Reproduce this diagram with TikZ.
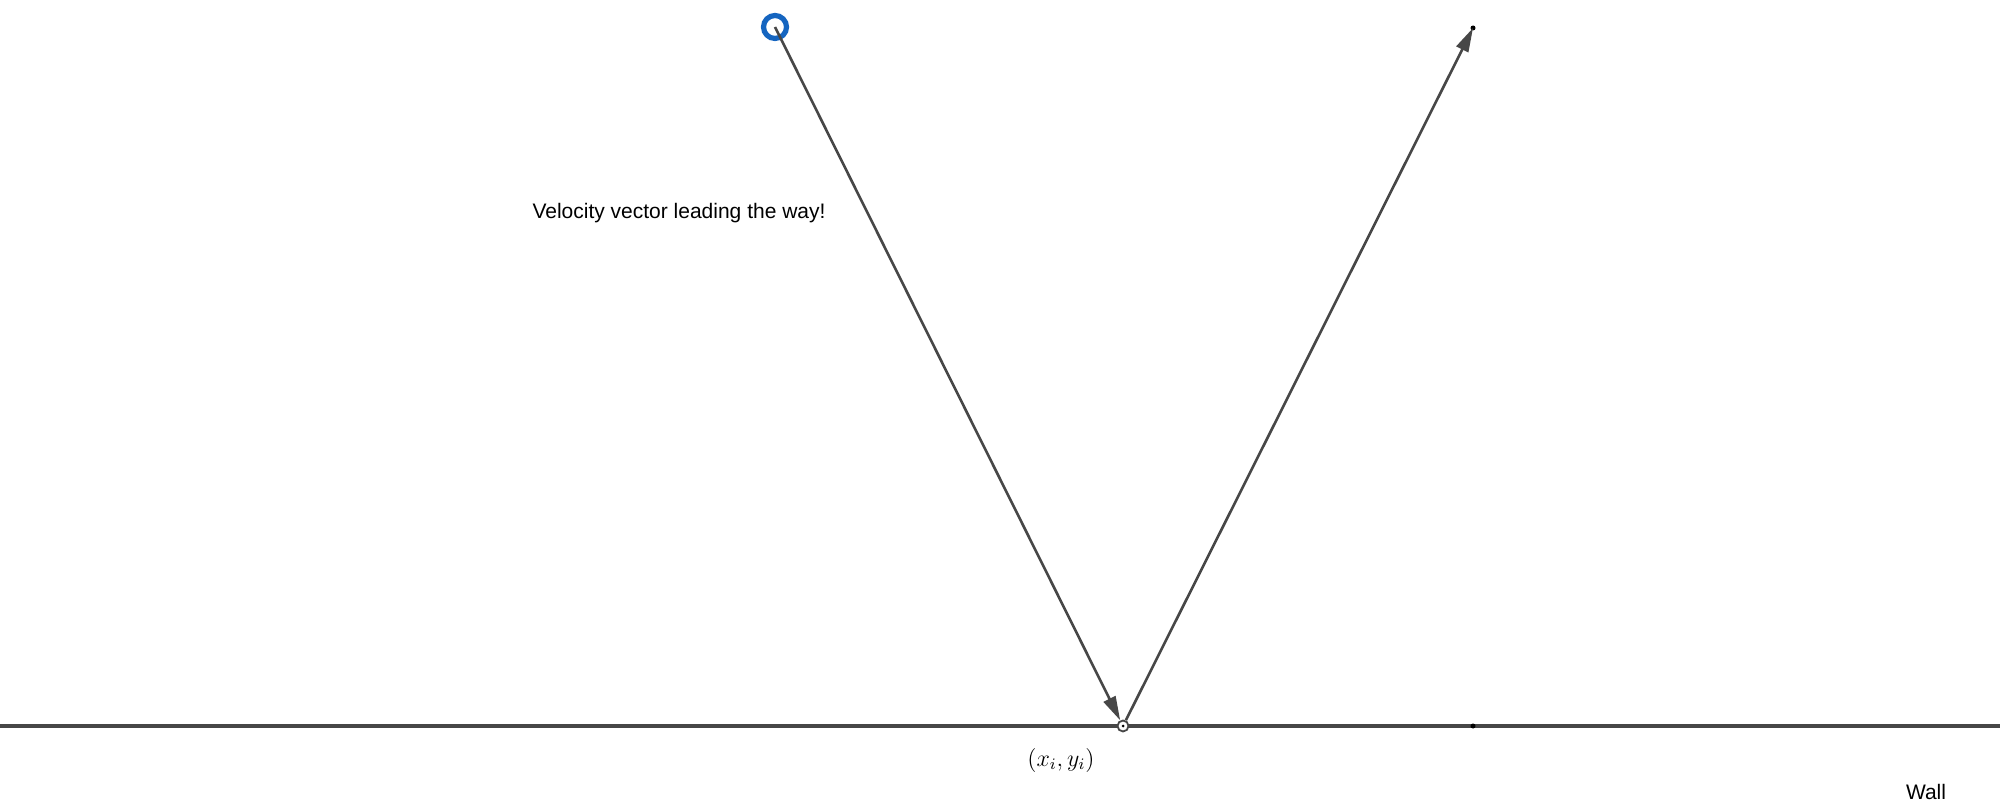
\documentclass[tikz,border=0pt]{standalone}
\usepackage{fontspec}
\setmainfont{Liberation Sans}
\usetikzlibrary{arrows.meta}
\definecolor{linegray}{HTML}{474747}
\definecolor{ballblue}{HTML}{1565C0}
\begin{document}
\begin{tikzpicture}[x=0.5pt,y=-0.5pt,
  vec/.style={draw=linegray,line width=1.3pt,-{Triangle[length=12pt,width=6.5pt]}},
  wallline/.style={draw=linegray,line width=1.7pt},
  lbl/.style={font=\fontsize{10.5}{12}\selectfont,inner sep=0pt},
  tinydot/.style={circle,fill=black,inner sep=0pt,minimum size=2.5pt}]
\useasboundingbox (0,0) rectangle (2000,806);
\coordinate (wl) at (0,726);
\coordinate (wr) at (2000,726);
\draw[wallline] (wl) -- (wr);
\node[circle,draw=linegray,line width=0.9pt,fill=white,inner sep=0pt,minimum size=5.5pt] (hit) at (1123,726) {};
\node[tinydot,minimum size=1.5pt] at (hit.center) {};
\node[circle,draw=ballblue,line width=2.6pt,inner sep=0pt,minimum size=11.5pt] (ball) at (775,27) {};
\coordinate (tip) at (1473,28);
\node[tinydot] (tipdot) at (tip) {};
\node[tinydot] (walldot) at (1473,726) {};
\draw[vec] (ball.center) -- (hit);
\draw[vec] (hit) -- (tip);
\node[lbl] (vtext) at (679,213) {Velocity vector leading the way!};
\node[inner sep=0pt,font=\large] (hitlbl) at (1061,760) {$(x_i,y_i)$};
\node[lbl] (walltext) at (1926,792) {Wall};
\end{tikzpicture}
\end{document}
